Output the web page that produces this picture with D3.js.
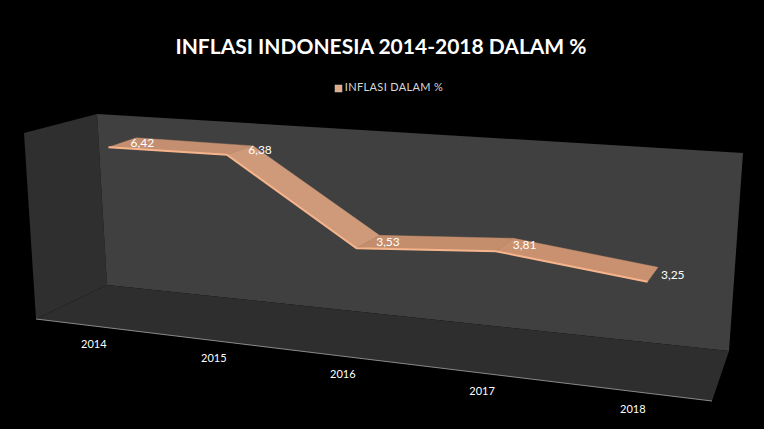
<!DOCTYPE html>
<html><head><meta charset="utf-8">
<script src="https://cdn.jsdelivr.net/npm/d3@7"></script>
<style>html,body{margin:0;padding:0;background:#000}svg{display:block}</style>
</head><body><svg id="c" width="764" height="429"></svg>
<script>
const categories = ["2014","2015","2016","2017","2018"];
const inflasi = [6.42,6.38,3.53,3.81,3.25];
const valueLabels = ["6,42","6,38","3,53","3,81","3,25"];
const chartTitle = "INFLASI INDONESIA 2014-2018 DALAM %";
const seriesName = "INFLASI DALAM %";

const W=764,H=429;
const svg=d3.select("#c").attr("viewBox",[0,0,W,H]);
svg.append("rect").attr("width",W).attr("height",H).attr("fill","#000");

// Perspective planes: [bottom-left, bottom-right, top-right, top-left]
const backWall=[[107,285],[729,351],[743,153],[97,114]];
const frontBox=[[36,319],[712,401],[731,178],[24,133]];
const ribbonFront=[[64,317],[723,395],[737,161],[52,128]];
const ribbonBack=[[90,301],[729,373],[742,155],[80,119]];

function plane(q){ // unit square -> quad homography
  const [p0,p1,p2,p3]=q;
  const dx1=p1[0]-p2[0],dx2=p3[0]-p2[0],sx=p0[0]-p1[0]+p2[0]-p3[0];
  const dy1=p1[1]-p2[1],dy2=p3[1]-p2[1],sy=p0[1]-p1[1]+p2[1]-p3[1];
  const d=dx1*dy2-dx2*dy1;
  const g=(sx*dy2-dx2*sy)/d,h=(dx1*sy-sx*dy1)/d;
  const a=p1[0]-p0[0]+g*p1[0],b=p3[0]-p0[0]+h*p3[0],c=p0[0];
  const e=p1[1]-p0[1]+g*p1[1],f=p3[1]-p0[1]+h*p3[1],i=p0[1];
  return (u,v)=>{const w=g*u+h*v+1;return [(a*u+b*v+c)/w,(e*u+f*v+i)/w];};
}
const xScale=d3.scalePoint().domain(categories).range([0,1]).padding(0.5);
const yScale=d3.scaleLinear().domain([0,7]).range([0,1]);
const pf=plane(ribbonFront),pb=plane(ribbonBack),pbox=plane(frontBox);
const line=d3.line();
const poly=(pts,fill)=>svg.append("path").attr("d",line(pts)+"Z").attr("fill",fill);

// walls and floor
poly([frontBox[3],backWall[3],backWall[0],frontBox[0]],"#2f2f2f");
poly(backWall,"#404040");
poly([frontBox[0],backWall[0],backWall[1],frontBox[1]],"#2e2e2e");
svg.append("line").attr("x1",frontBox[0][0]).attr("y1",frontBox[0][1]).attr("x2",frontBox[1][0]).attr("y2",frontBox[1][1]).attr("stroke","#8a8a8a").attr("stroke-width",1);

// ribbon
const front=categories.map((c,i)=>pf(xScale(c),yScale(inflasi[i])));
const back=categories.map((c,i)=>pb(xScale(c),yScale(inflasi[i])));
const segFill=["#c48f70","#cf9a79","#c48e6c","#c9916f"];
d3.range(categories.length-1).forEach(i=>{
  poly([front[i],front[i+1],back[i+1],back[i]],segFill[i]).attr("stroke",segFill[i]).attr("stroke-width",.4);
});
svg.append("path").attr("d",line(front)).attr("fill","none").attr("stroke","#f6b48c").attr("stroke-width",2);

// data labels
const txt=(x,y,s,size)=>svg.append("text").attr("x",x).attr("y",y).attr("font-family","Lato, sans-serif")
  .attr("font-size",size).attr("fill","#fff").attr("text-anchor","middle").attr("dominant-baseline","middle").text(s);
categories.forEach((c,i)=>{
  txt((front[i][0]+back[i][0])/2+20,(front[i][1]+back[i][1])/2+1,valueLabels[i],12);
});
// category labels
categories.forEach(c=>{
  const p=pbox(xScale(c),0);
  txt(p[0]+1,p[1]+19,c,11);
});
// title and legend
txt(381,49,chartTitle,21).attr("font-weight",700);
const lg=d3.scaleBand().domain(["swatch"]).range([335,342]);
svg.append("rect").attr("x",lg("swatch")).attr("y",85).attr("width",lg.bandwidth()).attr("height",7).attr("fill","#e0a988").attr("stroke","#c9c9c9").attr("stroke-width",.5);
txt(394,88,seriesName,11).attr("fill","#d9d9d9").attr("letter-spacing",0.35);
</script></body></html>
